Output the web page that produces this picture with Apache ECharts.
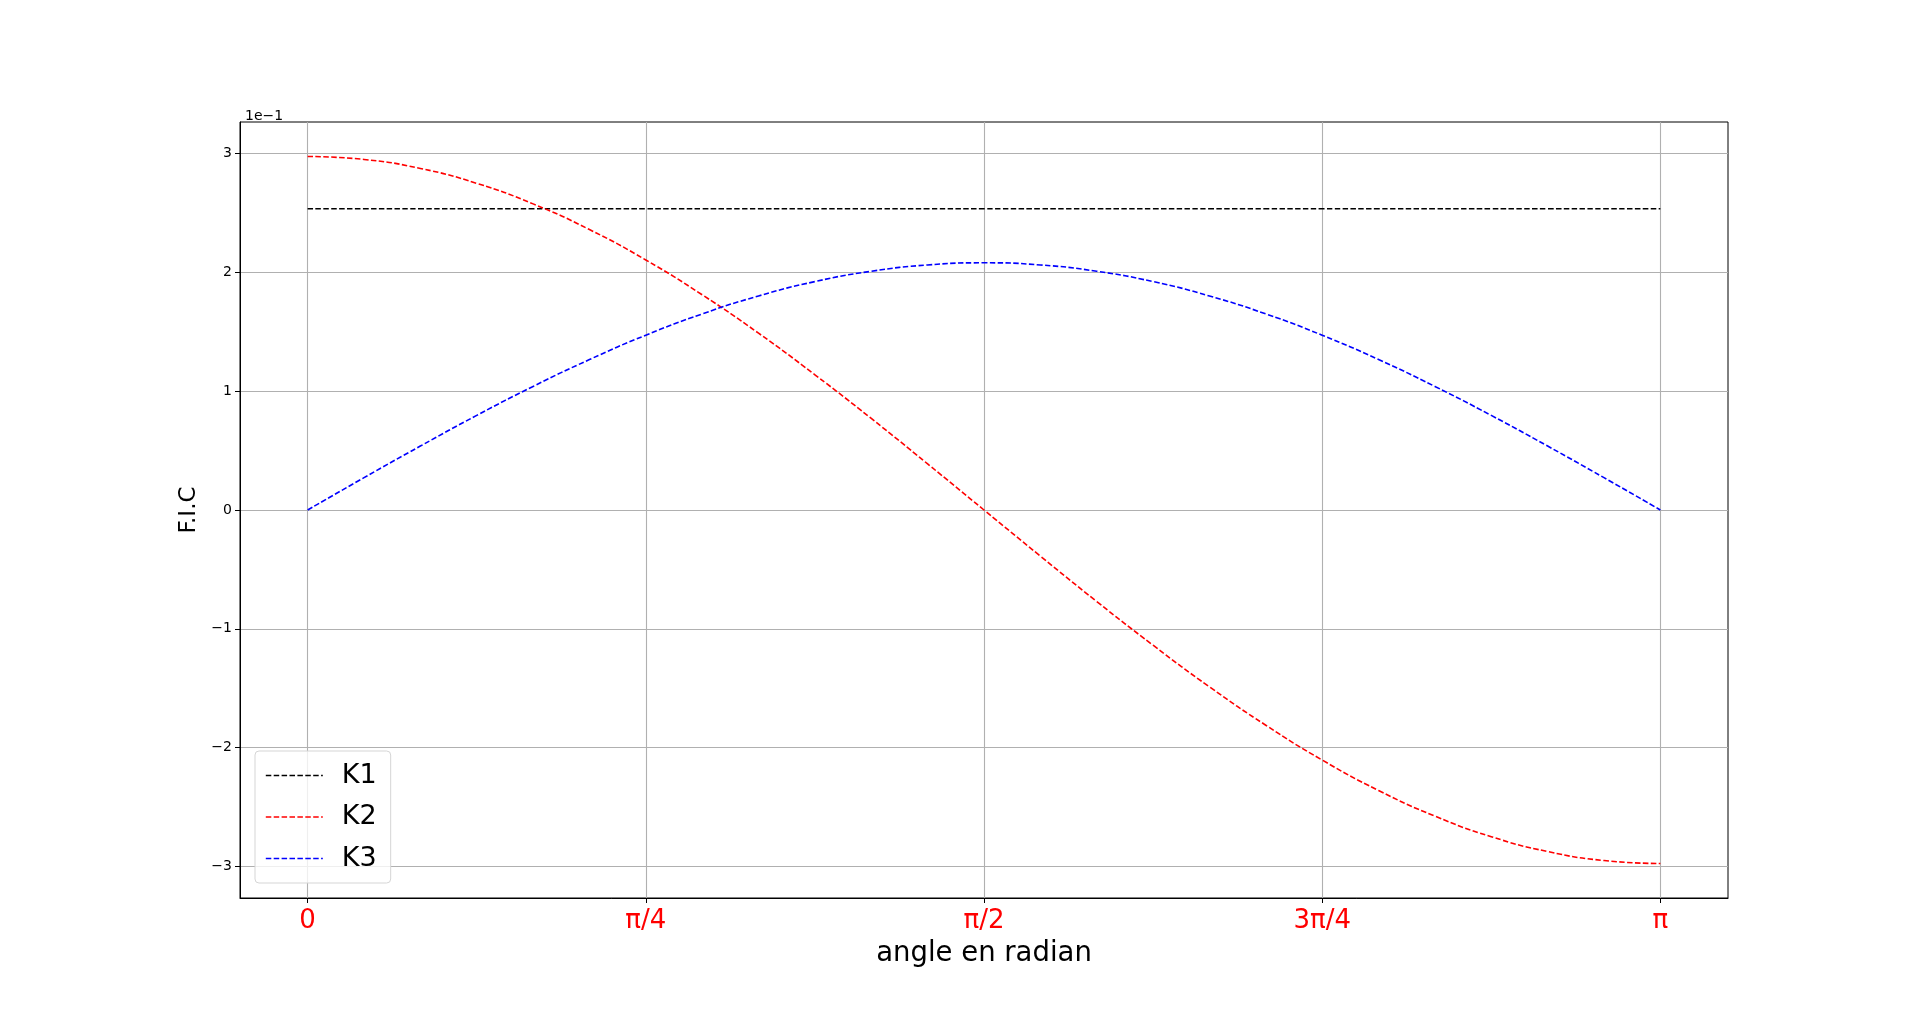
<!DOCTYPE html>
<html>
<head>
<meta charset="utf-8">
<title>F.I.C</title>
<script src="https://cdn.jsdelivr.net/npm/echarts@6/dist/echarts.min.js"></script>
<style>
  html, body { margin: 0; padding: 0; background: #fff; }
  #chart { width: 1920px; height: 1009px; }
</style>
</head>
<body>
<div id="chart"></div>
<script>
// x in units of pi/4 (0 .. 4 == 0 .. pi), step pi/24
var angles = [0, 0.1667, 0.3333, 0.5, 0.6667, 0.8333, 1, 1.1667, 1.3333, 1.5, 1.6667, 1.8333, 2,
              2.1667, 2.3333, 2.5, 2.6667, 2.8333, 3, 3.1667, 3.3333, 3.5, 3.6667, 3.8333, 4];
var xTickValues = [0, 1, 2, 3, 4];
var xTickLabels = ['0', 'π/4', 'π/2', '3π/4', 'π'];
var yTickValues = [-3, -2, -1, 0, 1, 2, 3];

// values in units of 1e-1
var k1 = [2.535, 2.535, 2.535, 2.535, 2.535, 2.535, 2.535, 2.535, 2.535, 2.535, 2.535, 2.535, 2.535,
          2.535, 2.535, 2.535, 2.535, 2.535, 2.535, 2.535, 2.535, 2.535, 2.535, 2.535, 2.535];
var k2 = [2.975, 2.950, 2.874, 2.749, 2.576, 2.360, 2.104, 1.811, 1.488, 1.138, 0.770, 0.388, 0,
          -0.388, -0.770, -1.138, -1.488, -1.811, -2.104, -2.360, -2.576, -2.749, -2.874, -2.950, -2.975];
var k3 = [0, 0.272, 0.538, 0.796, 1.040, 1.266, 1.471, 1.650, 1.801, 1.922, 2.009, 2.062, 2.080,
          2.062, 2.009, 1.922, 1.801, 1.650, 1.471, 1.266, 1.040, 0.796, 0.538, 0.272, 0];

function pairs(ys) {
  return angles.map(function (x, i) { return [x, ys[i]]; });
}

function dashed(name, color, ys) {
  return {
    name: name,
    type: 'line',
    data: pairs(ys),
    symbol: 'none',
    smooth: true,
    lineStyle: { color: color, width: 1.6, type: [5.5, 2.4] },
    itemStyle: { color: color }
  };
}

var chart = echarts.init(document.getElementById('chart'));
chart.setOption({
  animation: false,
  textStyle: { fontFamily: 'DejaVu Sans' },
  title: {
    text: '1e−1',
    left: 240,
    top: 104,
    textStyle: { fontSize: 14, fontWeight: 'normal', color: '#000', fontFamily: 'DejaVu Sans' }
  },
  grid: {
    left: 240, right: 192, top: 122, bottom: 111,
    show: true, borderColor: '#000', borderWidth: 1, backgroundColor: 'transparent'
  },
  legend: {
    orient: 'vertical',
    left: 255,
    top: 751,
    itemWidth: 57,
    itemHeight: 14,
    itemGap: 14.5,
    padding: [11, 14, 11, 10],
    backgroundColor: 'rgba(255,255,255,0.8)',
    borderColor: '#d5d5d5',
    borderWidth: 1,
    borderRadius: 4,
    itemStyle: { opacity: 0 },
    lineStyle: { width: 1.6, type: [5.5, 2.4] },
    textStyle: { fontSize: 27, color: '#000', fontFamily: 'DejaVu Sans', padding: [0, 0, 0, 14] },
    data: ['K1', 'K2', 'K3']
  },
  xAxis: {
    type: 'value',
    min: -0.2,
    max: 4.2,
    name: 'angle en radian',
    nameLocation: 'middle',
    nameGap: 42,
    nameTextStyle: { fontSize: 27.5, color: '#000', verticalAlign: 'top' },
    axisLine: { show: true, onZero: false, lineStyle: { color: '#000', width: 1 } },
    axisTick: { show: true, length: 5, lineStyle: { color: '#000' }, customValues: xTickValues },
    axisLabel: {
      customValues: xTickValues,
      margin: 10,
      fontSize: 26,
      color: '#ff0000',
      formatter: function (v) { return xTickLabels[xTickValues.indexOf(v)]; }
    },
    splitLine: { show: true, lineStyle: { color: '#b0b0b0', width: 1.1 } }
  },
  yAxis: {
    type: 'value',
    min: -3.265,
    max: 3.265,
    name: 'F.I.C',
    nameLocation: 'middle',
    nameGap: 28,
    nameRotate: 90,
    nameTextStyle: { fontSize: 23, color: '#000' },
    axisLine: { show: true, onZero: false, lineStyle: { color: '#000', width: 1 } },
    axisTick: { show: true, length: 5, lineStyle: { color: '#000' }, customValues: yTickValues },
    axisLabel: {
      customValues: yTickValues,
      margin: 8,
      fontSize: 14,
      color: '#000',
      formatter: function (v) { return v < 0 ? '−' + Math.abs(v) : String(v); }
    },
    splitLine: { show: true, lineStyle: { color: '#b0b0b0', width: 1.1 } }
  },
  series: [
    dashed('K1', '#000000', k1),
    dashed('K2', '#ff0000', k2),
    dashed('K3', '#0000ff', k3)
  ]
});
</script>
</body>
</html>
